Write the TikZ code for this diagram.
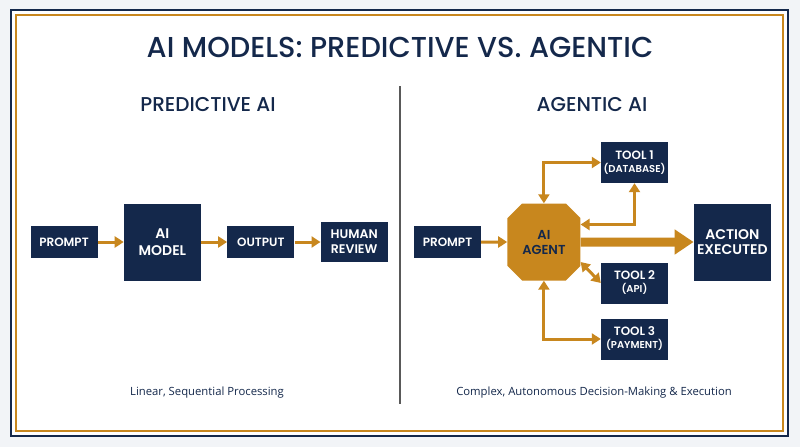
\documentclass[tikz,border=0pt]{standalone}
\usepackage{fontspec}
\setmainfont{Poppins}
\IfFontExistsTF{Poppins Medium}{\newfontfamily\medfont{Poppins Medium}}{\newfontfamily\medfont{Poppins}}
\IfFontExistsTF{Poppins SemiBold}{\newfontfamily\semifont{Poppins SemiBold}}{\newfontfamily\semifont{Poppins}}
\newfontfamily\capfont{Open Sans}
\usepackage{xcolor}
\usepackage{tikz}
\usetikzlibrary{arrows.meta,positioning,shapes.misc}
\definecolor{navy}{HTML}{14284B}
\definecolor{gold}{HTML}{C8871E}
\definecolor{paper}{HTML}{F2F4F7}
\newcommand{\fs}[2]{\fontsize{#1}{#2}\selectfont}

\begin{document}
\begin{tikzpicture}[
  x=1pt, y=-1pt,
  node distance=26pt,
  box/.style={fill=navy, text=white, inner sep=0pt, align=center, font=\semifont\fs{12}{15}},
  sbox/.style={box, minimum width=67pt, minimum height=32pt},
  sqbox/.style={box, minimum width=77pt, minimum height=77pt},
  tool/.style={box, minimum width=67pt, minimum height=41pt, font=\semifont\fs{12}{13}},
  agentbox/.style={chamfered rectangle, chamfered rectangle xsep=11pt, fill=gold, text=navy, inner sep=0pt,
    minimum width=73pt, minimum height=77pt, align=center, font=\semifont\fs{13}{15}},
  head/.style={text=navy, font=\medfont\fs{20}{24}},
  note/.style={text=navy, font=\capfont\fs{11.3}{13}},
  arr/.style={-{Triangle[length=9pt,width=11pt]}, line width=3pt, draw=gold},
  biarr/.style={arr, {Triangle[length=9pt,width=11pt]}-{Triangle[length=9pt,width=11pt]}},
  bigarr/.style={-{Triangle[length=19pt,width=24pt]}, line width=9pt, draw=gold},
]
\useasboundingbox (0,0) rectangle (800,447);
% frame
\fill[paper] (0,0) rectangle (800,447);
\draw[navy, line width=2pt, fill=white] (11,10) rectangle (788,436);
\draw[gold, line width=1.5pt] (16,15) rectangle (783,431);
\draw[black!65, line width=1.5pt] (400,86) -- (400,404);

\node[text=navy, font=\medfont\fs{28.8}{32}] (title) at (400,47) {AI MODELS: PREDICTIVE VS. AGENTIC};
\node[head] (hpred) at (208,105) {PREDICTIVE AI};
\node[head] (hagent) at (592,105) {AGENTIC AI};

% predictive
\node[sbox] (pprompt) at (64,242) {PROMPT};
\node[sqbox, right=of pprompt, font=\semifont\fs{14}{16.5}] (model) {AI\\MODEL};
\node[sbox, right=of model] (output) {OUTPUT};
\node[sbox, right=of output, minimum height=40pt, font=\semifont\fs{12.5}{15}] (review) {HUMAN\\REVIEW};
\draw[arr] (pprompt) -- (model);
\draw[arr] (model) -- (output);
\draw[arr] (output) -- (review);

% agentic
\node[sbox] (aprompt) at (447.5,242) {PROMPT};
\node[agentbox, right=of aprompt] (agent) {AI\\AGENT};
\node[sqbox, right=113pt of agent, font=\semifont\fs{14}{15.5}] (action) {ACTION\\EXECUTED};
\node[tool] (tool1) at (634.5,162.5) {TOOL 1\\{\fs{10}{13}(DATABASE)}};
\node[tool] (tool2) at (634.5,283) {TOOL 2\\{\fs{10}{13}(API)}};
\node[tool] (tool3) at (634.5,339) {TOOL 3\\{\fs{10}{13}(PAYMENT)}};
\draw[arr] (aprompt) -- (agent);
\draw[biarr] (agent.north) |- (tool1.west);
\draw[biarr] (tool1.south) |- ([yshift=17.5pt]agent.east);
\draw[biarr] ([yshift=-20pt]agent.east) -- (tool2.west);
\draw[biarr] (agent.south) |- (tool3.west);
\draw[bigarr] (agent) -- (action);

\node[note] (npred) at (207,393) {Linear, Sequential Processing};
\node[note] (nagent) at (594,393) {Complex, Autonomous Decision-Making \& Execution};
\end{tikzpicture}
\end{document}
